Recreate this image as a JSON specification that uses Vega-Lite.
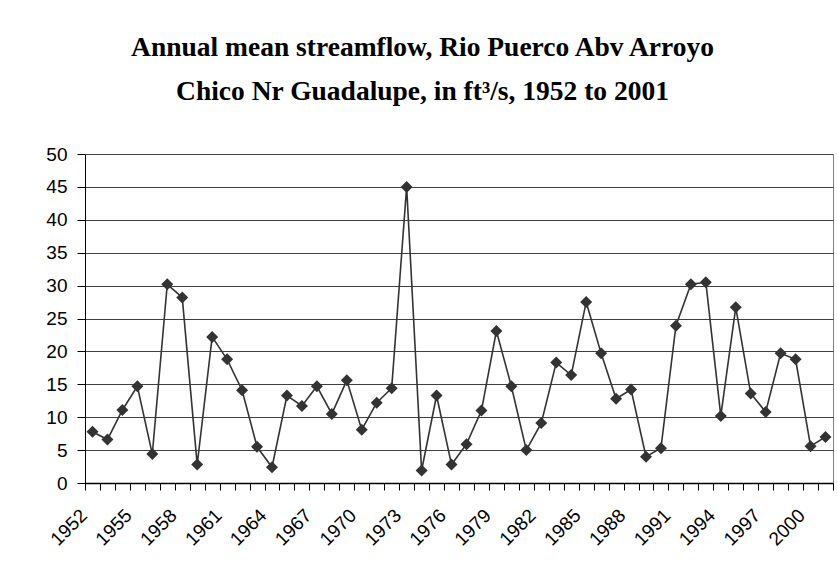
{
  "$schema": "https://vega.github.io/schema/vega-lite/v6.json",
  "width": 748,
  "height": 329,
  "autosize": {"type": "none"},
  "padding": {"left": 85, "top": 154, "right": 5, "bottom": 94},
  "background": "white",
  "title": {
    "text": ["Annual mean streamflow, Rio Puerco Abv Arroyo", "Chico Nr Guadalupe, in ft³/s, 1952 to 2001"],
    "font": "Liberation Serif",
    "fontSize": 27.5,
    "fontWeight": "bold",
    "color": "#000",
    "anchor": "middle",
    "frame": "group",
    "dx": -36.5,
    "lineHeight": 44,
    "offset": 40
  },
  "config": {
    "view": {"stroke": "#808080", "strokeWidth": 1},
    "axis": {
      "labelFont": "Liberation Sans",
      "labelFontSize": 19,
      "labelColor": "#000",
      "tickColor": "#000",
      "domainColor": "#000",
      "titleFont": "Liberation Sans"
    }
  },
  "data": {
    "values": [
      {"year": 1952, "flow": 7.8}, {"year": 1953, "flow": 6.6}, {"year": 1954, "flow": 11.1},
      {"year": 1955, "flow": 14.7}, {"year": 1956, "flow": 4.4}, {"year": 1957, "flow": 30.2},
      {"year": 1958, "flow": 28.2}, {"year": 1959, "flow": 2.8}, {"year": 1960, "flow": 22.2},
      {"year": 1961, "flow": 18.8}, {"year": 1962, "flow": 14.1}, {"year": 1963, "flow": 5.5},
      {"year": 1964, "flow": 2.4}, {"year": 1965, "flow": 13.3}, {"year": 1966, "flow": 11.7},
      {"year": 1967, "flow": 14.7}, {"year": 1968, "flow": 10.5}, {"year": 1969, "flow": 15.6},
      {"year": 1970, "flow": 8.1}, {"year": 1971, "flow": 12.2}, {"year": 1972, "flow": 14.4},
      {"year": 1973, "flow": 45.0}, {"year": 1974, "flow": 1.9}, {"year": 1975, "flow": 13.3},
      {"year": 1976, "flow": 2.8}, {"year": 1977, "flow": 5.9}, {"year": 1978, "flow": 11.0},
      {"year": 1979, "flow": 23.1}, {"year": 1980, "flow": 14.7}, {"year": 1981, "flow": 5.0},
      {"year": 1982, "flow": 9.1}, {"year": 1983, "flow": 18.3}, {"year": 1984, "flow": 16.4},
      {"year": 1985, "flow": 27.5}, {"year": 1986, "flow": 19.7}, {"year": 1987, "flow": 12.8},
      {"year": 1988, "flow": 14.2}, {"year": 1989, "flow": 4.0}, {"year": 1990, "flow": 5.3},
      {"year": 1991, "flow": 23.9}, {"year": 1992, "flow": 30.2}, {"year": 1993, "flow": 30.5},
      {"year": 1994, "flow": 10.2}, {"year": 1995, "flow": 26.7}, {"year": 1996, "flow": 13.6},
      {"year": 1997, "flow": 10.8}, {"year": 1998, "flow": 19.7}, {"year": 1999, "flow": 18.8},
      {"year": 2000, "flow": 5.6}, {"year": 2001, "flow": 7.0}
    ]
  },
  "encoding": {
    "x": {
      "field": "year",
      "type": "ordinal",
      "scale": {"type": "band", "paddingInner": 0, "paddingOuter": 0},
      "axis": {
        "title": null,
        "tickBand": "extent",
        "tickSize": 7,
        "domainWidth": 1.5,
        "labelAngle": -45,
        "labelAlign": "right",
        "labelBaseline": "middle",
        "labelPadding": 22,
        "labelOffset": -9,
        "labelExpr": "(datum.value - 1952) % 3 == 0 ? datum.label : ''",
        "grid": false
      }
    },
    "y": {
      "field": "flow",
      "type": "quantitative",
      "scale": {"domain": [0, 50], "nice": false},
      "axis": {
        "title": null,
        "values": [0, 5, 10, 15, 20, 25, 30, 35, 40, 45, 50],
        "grid": true,
        "gridColor": "#404040",
        "gridWidth": 1,
        "tickSize": 8,
        "labelPadding": 10
      }
    }
  },
  "layer": [
    {"mark": {"type": "line", "color": "#333333", "strokeWidth": 1.6}},
    {"mark": {"type": "point", "shape": "diamond", "filled": true, "color": "#333333", "size": 144, "opacity": 1}}
  ]
}
